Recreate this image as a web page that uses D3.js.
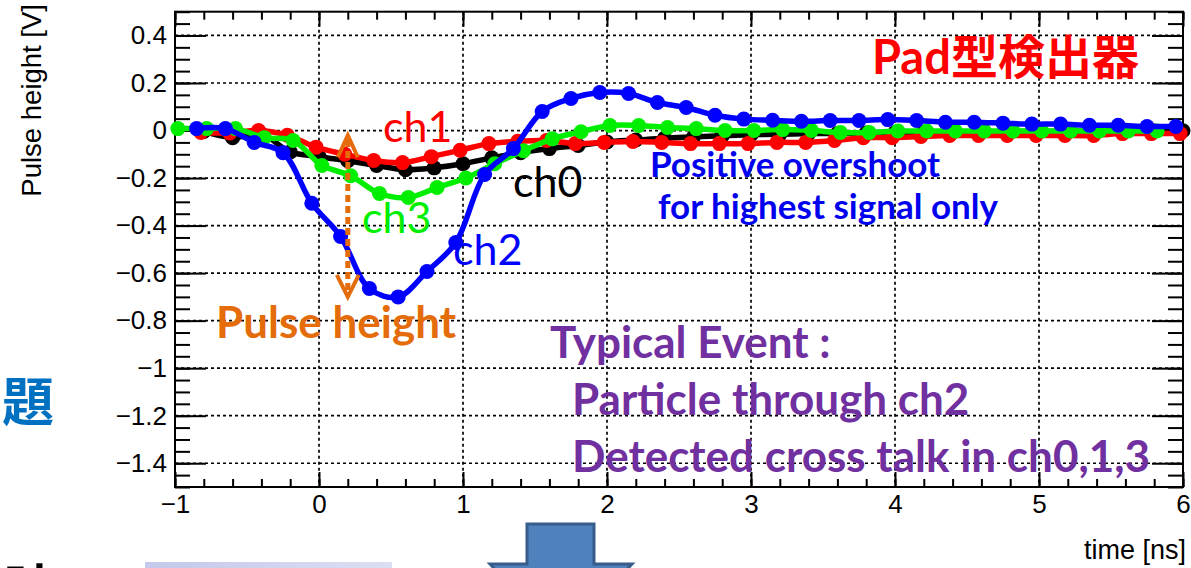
<!DOCTYPE html>
<html><head><meta charset="utf-8">
<script src="https://cdn.jsdelivr.net/npm/d3@7"></script>
<style>
html,body{margin:0;padding:0;background:#fff;overflow:hidden}
svg{display:block}
</style></head><body>
<svg id="chart" width="1191" height="568"></svg>
<script>
// ---- data: sampled pulse heights [V] per channel, time in ns ----
const ch0Time = [-0.8,-0.6,-0.4,-0.2,0.0,0.2,0.4,0.6,0.8,1.0,1.2,1.4,1.6,1.8,2.0,2.2,2.4,2.6,2.8,3.0,3.2,3.4,3.6,3.8,4.0,4.2,4.4,4.6,4.8,5.0,5.2,5.4,5.6,5.8,6.0];
const ch0Value = [-0.004,-0.03,-0.015,-0.09,-0.11,-0.127,-0.147,-0.165,-0.157,-0.14,-0.115,-0.093,-0.076,-0.063,-0.048,-0.04,-0.032,-0.027,-0.022,-0.018,-0.016,-0.013,-0.012,-0.01,-0.009,-0.008,-0.007,-0.006,-0.005,-0.004,-0.003,-0.003,-0.002,-0.002,-0.001];

const ch1Time = [-0.82,-0.62,-0.42,-0.22,-0.02,0.18,0.38,0.58,0.78,0.98,1.18,1.38,1.58,1.78,1.98,2.18,2.38,2.58,2.78,2.98,3.18,3.38,3.58,3.78,3.98,4.18,4.38,4.58,4.78,4.98,5.18,5.38,5.58,5.78,5.98];
const ch1Value = [-0.008,-0.01,0.0,-0.02,-0.07,-0.10,-0.126,-0.135,-0.11,-0.083,-0.055,-0.045,-0.042,-0.055,-0.05,-0.046,-0.05,-0.055,-0.055,-0.055,-0.05,-0.05,-0.042,-0.03,-0.03,-0.025,-0.021,-0.021,-0.021,-0.021,-0.021,-0.021,-0.013,-0.013,-0.013];

const ch2Time = [-0.85,-0.65,-0.45,-0.25,-0.05,0.15,0.35,0.55,0.75,0.95,1.15,1.35,1.55,1.75,1.95,2.15,2.35,2.55,2.75,2.95,3.15,3.35,3.55,3.75,3.95,4.15,4.35,4.55,4.75,4.95,5.15,5.35,5.55,5.75,5.95];
const ch2Value = [0.008,0.008,-0.05,-0.093,-0.306,-0.446,-0.665,-0.70,-0.593,-0.471,-0.185,-0.076,0.08,0.135,0.16,0.156,0.118,0.097,0.064,0.048,0.043,0.039,0.042,0.042,0.046,0.042,0.035,0.035,0.031,0.027,0.027,0.022,0.022,0.017,0.017];

const ch3Time = [-0.98,-0.78,-0.58,-0.38,-0.18,0.02,0.22,0.42,0.62,0.82,1.02,1.22,1.42,1.62,1.82,2.02,2.22,2.42,2.62,2.82,3.02,3.22,3.42,3.62,3.82,4.02,4.22,4.42,4.62,4.82,5.02,5.22,5.42,5.62,5.82];
const ch3Value = [0.008,0.008,0.008,-0.03,-0.042,-0.147,-0.19,-0.265,-0.282,-0.24,-0.2,-0.14,-0.085,-0.035,-0.005,0.021,0.021,0.013,0.008,0.0,0.0,0.004,0.0,-0.008,-0.008,-0.002,-0.002,-0.002,-0.002,-0.002,-0.002,-0.002,-0.002,-0.002,-0.002];

const channelColors = ["#000000","#ff0000","#00ee00","#0000ff"];

const xTickValues = [-1,0,1,2,3,4,5,6];
const xTickLabels = ["\u22121","0","1","2","3","4","5","6"];
const yTickValues = [0.4,0.2,0,-0.2,-0.4,-0.6,-0.8,-1,-1.2,-1.4];
const yTickLabels = ["0.4","0.2","0","\u22120.2","\u22120.4","\u22120.6","\u22120.8","\u22121","\u22121.2","\u22121.4"];

// ---- layout ----
const svg = d3.select("#chart");
const L = 175, R = 1183, T = 11.7, B = 487;
const x = d3.scaleLinear().domain([-1, 6]).range([L, R]);
const y = d3.scaleLinear().domain([-1.5, 0.5]).range([B, T]);

const axisFont = "'Liberation Sans', Arial, Helvetica, sans-serif";
const noteFont = "Lato, 'Noto Sans CJK JP', sans-serif";

// dotted grid at major ticks
const grid = svg.append("g").attr("stroke", "#000").attr("stroke-width", 1.7).attr("stroke-dasharray", "3,3");
grid.selectAll("line.gx").data(xTickValues.slice(1, -1)).join("line")
  .attr("x1", d => x(d)).attr("x2", d => x(d)).attr("y1", T).attr("y2", B);
grid.selectAll("line.gy").data(yTickValues).join("line")
  .attr("x1", L).attr("x2", R).attr("y1", d => y(d)).attr("y2", d => y(d));

// axes: ticks drawn inward on all four sides
const xMinor = d3.range(-1, 6.001, 0.2);
const yMinor = d3.range(-1.5, 0.5001, 0.05);

function styleAxis(g) {
  g.select(".domain").remove();
  g.selectAll(".tick line").attr("stroke", "#000").attr("stroke-width", 2);
  g.selectAll(".tick text").attr("fill", "#000").style("font-family", axisFont).style("font-size", "26px");
}

svg.append("g").attr("transform", `translate(0,${B})`)
  .call(d3.axisBottom(x).tickValues(xMinor).tickSize(-8).tickFormat(""))
  .call(styleAxis);
svg.append("g").attr("transform", `translate(0,${B})`)
  .call(d3.axisBottom(x).tickValues(xTickValues).tickSize(-15).tickPadding(8)
    .tickFormat((d, i) => xTickLabels[i]))
  .call(styleAxis);
svg.append("g").attr("transform", `translate(0,${T})`)
  .call(d3.axisTop(x).tickValues(xMinor).tickSize(-8).tickFormat(""))
  .call(styleAxis);
svg.append("g").attr("transform", `translate(0,${T})`)
  .call(d3.axisTop(x).tickValues(xTickValues).tickSize(-15).tickFormat(""))
  .call(styleAxis);

svg.append("g").attr("transform", `translate(${L},0)`)
  .call(d3.axisLeft(y).tickValues(yMinor).tickSize(-15).tickFormat(""))
  .call(styleAxis);
svg.append("g").attr("transform", `translate(${L},0)`)
  .call(d3.axisLeft(y).tickValues(yTickValues).tickSize(-31).tickPadding(8)
    .tickFormat((d, i) => yTickLabels[i]))
  .call(styleAxis);
svg.append("g").attr("transform", `translate(${R},0)`)
  .call(d3.axisRight(y).tickValues(yMinor).tickSize(-15).tickFormat(""))
  .call(styleAxis);
svg.append("g").attr("transform", `translate(${R},0)`)
  .call(d3.axisRight(y).tickValues(yTickValues).tickSize(-31).tickFormat(""))
  .call(styleAxis);

// frame
svg.append("rect").attr("x", L).attr("y", T).attr("width", R - L).attr("height", B - T)
  .attr("fill", "none").attr("stroke", "#000").attr("stroke-width", 2);

// axis titles
svg.append("text").attr("transform", "translate(41,4) rotate(-90)")
  .attr("text-anchor", "end").style("font-family", axisFont).style("font-size", "27.5px")
  .text("Pulse height [V]");
svg.append("text").attr("x", 1186).attr("y", 559).attr("text-anchor", "end")
  .style("font-family", axisFont).style("font-size", "27px").text("time [ns]");

// channel waveforms: smooth curve plus sample markers
const series = [
  {t: ch0Time, v: ch0Value},
  {t: ch1Time, v: ch1Value},
  {t: ch3Time, v: ch3Value},
  {t: ch2Time, v: ch2Value}
];
const line = d3.line().x(d => x(d[0])).y(d => y(d[1])).curve(d3.curveCatmullRom.alpha(0.5));
const plot = svg.append("g");
series.forEach((s, i) => {
  const pts = s.t.map((t, k) => [t, s.v[k]]);
  const g = plot.append("g");
  g.append("path").datum(pts).attr("d", line).attr("fill", "none")
    .attr("stroke", channelColors[i]).attr("stroke-width", 5.5).attr("stroke-linejoin", "round");
  g.selectAll("circle").data(pts).join("circle")
    .attr("cx", d => x(d[0])).attr("cy", d => y(d[1])).attr("r", 7.5)
    .attr("fill", channelColors[i]);
});

// channel labels
const chLabels = [
  {name: "ch1", px: 383, py: 142, color: "#ff0000"},
  {name: "ch0", px: 513, py: 197, color: "#000000"},
  {name: "ch3", px: 362, py: 233, color: "#00ee00"},
  {name: "ch2", px: 453, py: 265, color: "#0000ff"}
];
svg.selectAll("text.ch").data(chLabels).join("text").attr("class", "ch")
  .attr("x", d => d.px).attr("y", d => d.py).attr("fill", d => d.color)
  .style("font-family", noteFont).style("font-size", "43px").text(d => d.name);

// pulse height arrow (dotted, from baseline to ch2 minimum)
const orange = "#e46c0a";
const ax = x(0.2);
const ch2Min = d3.min(ch2Value);
svg.append("line").attr("x1", ax).attr("x2", ax).attr("y1", y(-0.04)).attr("y2", y(ch2Min) - 6)
  .attr("stroke", orange).attr("stroke-width", 5).attr("stroke-dasharray", "7,4");
svg.append("polyline").attr("points", `${ax-10},${y(-0.02)+22} ${ax},${y(-0.02)} ${ax+10},${y(-0.02)+22}`)
  .attr("fill", "none").attr("stroke", orange).attr("stroke-width", 4);
svg.append("polyline").attr("points", `${ax-11},${y(ch2Min)-22} ${ax},${y(ch2Min)} ${ax+11},${y(ch2Min)-22}`)
  .attr("fill", "none").attr("stroke", orange).attr("stroke-width", 4);

// annotations
function note(txt, px, py, size, color) {
  svg.append("text").attr("x", px).attr("y", py).attr("fill", color)
    .style("font-family", noteFont).style("font-weight", 700).style("font-size", size + "px").text(txt);
}
note("Pad型検出器", 872, 74, 47, "#ff0000");
note("Positive overshoot", 650, 177, 35, "#0000ee");
note("for highest signal only", 658, 219, 35, "#0000ee");
note("Pulse height", 216, 338, 44, orange);
note("Typical Event :", 550, 358, 44, "#7030a0");
note("Particle through ch2", 572, 415, 44, "#7030a0");
note("Detected cross talk in ch0,1,3", 572, 472, 44, "#7030a0");

// surrounding slide elements
svg.append("text").attr("x", 2).attr("y", 421).attr("fill", "#0070c0")
  .style("font-family", "'Noto Sans CJK JP', sans-serif").style("font-weight", 700).style("font-size", "52px").text("題");
svg.append("text").attr("x", 4).attr("y", 608).attr("fill", "#000")
  .style("font-family", "'Noto Sans CJK JP', sans-serif").style("font-weight", 700).style("font-size", "52px").text("時");

const grad = svg.append("defs").append("linearGradient").attr("id", "shot").attr("x1", 0).attr("x2", 1);
grad.append("stop").attr("offset", 0).attr("stop-color", "#c4c8ea");
grad.append("stop").attr("offset", 1).attr("stop-color", "#dcdff2");
svg.append("rect").attr("x", 145).attr("y", 562).attr("width", 247).attr("height", 10).attr("fill", "url(#shot)");

svg.append("path").attr("d", "M527,524 L594,524 L594,564 L632,564 L561,640 L490,564 L527,564 Z")
  .attr("fill", "#4f81bd").attr("stroke", "#385d8a").attr("stroke-width", 3);
</script>
</body></html>
